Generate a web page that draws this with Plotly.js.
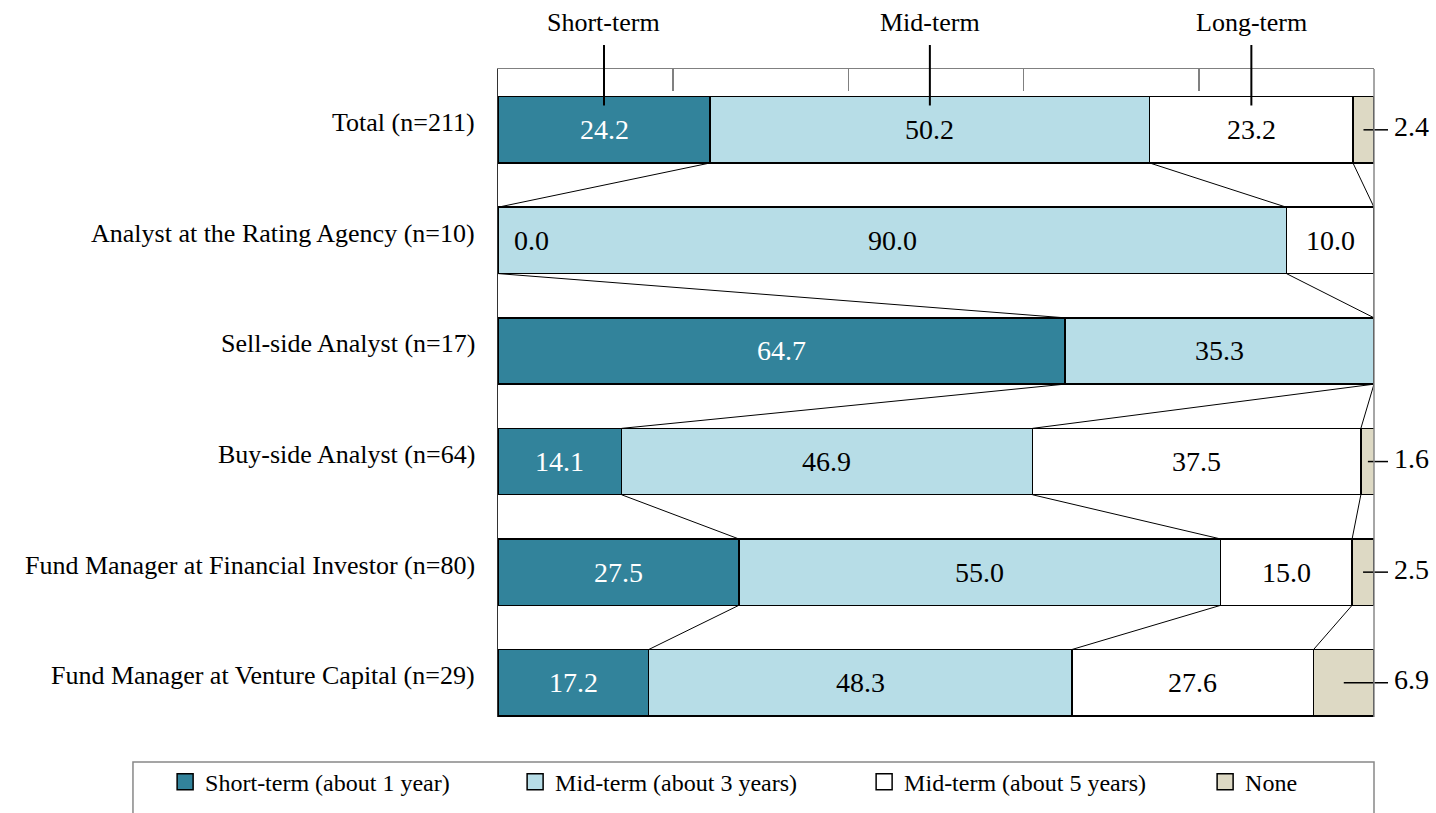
<!DOCTYPE html>
<html><head><meta charset="utf-8">
<script src="https://cdn.plot.ly/plotly-3.0.1.min.js"></script>
<style>html,body{margin:0;padding:0;background:#fff}#chart{width:1436px;height:813px}</style>
</head><body><div id="chart"></div>
<script>
const categories = ["Total (n=211)", "Analyst at the Rating Agency (n=10)", "Sell-side Analyst (n=17)", "Buy-side Analyst (n=64)", "Fund Manager at Financial Investor (n=80)", "Fund Manager at Venture Capital (n=29)"];
const seriesNames = ["Short-term (about 1 year)", "Mid-term (about 3 years)", "Mid-term (about 5 years)", "None"];
const shortTerm = [24.2, 0.0, 64.7, 14.1, 27.5, 17.2];
const midTerm3 = [50.2, 90.0, 35.3, 46.9, 55.0, 48.3];
const midTerm5 = [23.2, 10.0, 0.0, 37.5, 15.0, 27.6];
const noneVals = [2.4, 0.0, 0.0, 1.6, 2.5, 6.9];
const topLabels = ["Short-term", "Mid-term", "Long-term"];
const xTicks = [0, 20, 40, 60, 80, 100];

const series = [shortTerm, midTerm3, midTerm5, noneVals];
const colors = ["#32839b", "#b7dde7", "#ffffff", "#ddd9c4"];
const textColors = ["#ffffff", "#000000", "#000000", "#000000"];
const FONT = "'Liberation Serif', 'Times New Roman', serif";
const yRange = [5.31, -0.55];
const barHalf = 0.3;
const idx = categories.map((c, i) => i);
function yp(y) { return (yRange[0] - y) / (yRange[0] - yRange[1]); }

const traces = series.map((vals, s) => ({
  type: "bar", orientation: "h", x: vals, y: idx, name: seriesNames[s],
  width: 2 * barHalf, showlegend: false, hoverinfo: "x+name",
  marker: {color: colors[s], line: {color: "#000000", width: 1.5}}
}));
const legendWidths = [305, 304, 296, 60];
series.forEach((vals, s) => {
  traces.push({
    type: "scatter", mode: "markers", x: [null], y: [null], name: seriesNames[s],
    legendwidth: legendWidths[s], showlegend: true,
    marker: {symbol: "square", size: 16, color: colors[s], line: {color: "#000000", width: 1.5}}
  });
});

// cumulative boundaries
const cum = idx.map(i => {
  let c = 0; const out = [0];
  series.forEach(v => { c += v[i]; out.push(c); });
  return out;
});

const shapes = [];
const annotations = [];

// category labels
categories.forEach((c, i) => {
  annotations.push({xref: "paper", yref: "y", x: 0, y: i, xshift: -21, yshift: 7, xanchor: "right", yanchor: "middle",
    text: c, showarrow: false, font: {family: FONT, size: 26, color: "#000"}});
});

// value labels
idx.forEach(i => {
  series.forEach((vals, s) => {
    const v = vals[i];
    const mid = cum[i][s] + v / 2;
    if (s === 3) {
      if (v > 0) {
        shapes.push({type: "line", xref: "paper", yref: "paper", x0: mid / 100, x1: 1.016, y0: yp(i), y1: yp(i), line: {color: "#000", width: 1.5}});
        annotations.push({xref: "paper", yref: "y", x: 1.021, y: i, xanchor: "left", yanchor: "middle", yshift: 3,
          text: v.toFixed(1), showarrow: false, font: {family: FONT, size: 28, color: "#000"}});
      }
    } else if (v > 0) {
      annotations.push({xref: "x", yref: "y", x: mid, y: i, xanchor: "center", yanchor: "middle",
        text: v.toFixed(1), showarrow: false, font: {family: FONT, size: 28, color: textColors[s]}});
    } else if (s === 0) {
      annotations.push({xref: "x", yref: "y", x: 0, y: i, xshift: 14, xanchor: "left", yanchor: "middle",
        text: v.toFixed(1), showarrow: false, font: {family: FONT, size: 28, color: "#000"}});
    }
  });
});

// connector lines
for (let i = 0; i < categories.length - 1; i++) {
  for (let k = 1; k <= 3; k++) {
    shapes.push({type: "line", xref: "x", yref: "y", x0: cum[i][k], y0: i + barHalf, x1: cum[i + 1][k], y1: i + 1 - barHalf,
      line: {color: "#000", width: 1}});
  }
}

// top labels
topLabels.forEach((t, s) => {
  const mid = (cum[0][s] + cum[0][s + 1]) / 2;
  shapes.push({type: "line", xref: "paper", yref: "paper", x0: mid / 100, x1: mid / 100, y0: yp(-0.22), y1: 1.037, line: {color: "#000", width: 2}});
  annotations.push({xref: "paper", yref: "paper", x: mid / 100, y: 1.0725, xanchor: "center", yanchor: "middle",
    text: t, showarrow: false, font: {family: FONT, size: 26, color: "#000"}});
});

// right frame line
shapes.push({type: "line", xref: "paper", yref: "paper", x0: 1, x1: 1, y0: 0, y1: 1, line: {color: "#888", width: 1.5}});
// legend frame
shapes.push({type: "rect", xref: "paper", yref: "paper", x0: -0.4167, x1: 1, y0: -0.0694, y1: -0.2, line: {color: "#888", width: 1.5}, fillcolor: "rgba(0,0,0,0)"});

const layout = {
  width: 1436, height: 813,
  margin: {l: 498, r: 62, t: 69, b: 96, pad: 0, autoexpand: false},
  paper_bgcolor: "#ffffff", plot_bgcolor: "#ffffff",
  barmode: "stack",
  font: {family: FONT, size: 20, color: "#000"},
  xaxis: {range: [0, 100], side: "top", showline: true, linecolor: "#808080", linewidth: 1.5,
    ticks: "inside", ticklen: 22, tickwidth: 1.5, tickcolor: "#808080", tickvals: xTicks,
    showticklabels: false, showgrid: false, zeroline: false, fixedrange: true},
  yaxis: {type: "linear", range: yRange, showline: true, linecolor: "#333", linewidth: 1.5,
    showticklabels: false, showgrid: false, zeroline: false, ticks: "", fixedrange: true},
  showlegend: true,
  legend: {orientation: "h", traceorder: "normal", x: -0.38, xanchor: "left", y: -0.0657, yanchor: "top",
    font: {family: FONT, size: 24, color: "#000"}, bgcolor: "rgba(0,0,0,0)", borderwidth: 0, valign: "middle"},
  shapes: shapes, annotations: annotations
};
Plotly.newPlot("chart", traces, layout, {displayModeBar: false, staticPlot: true});
</script></body></html>
